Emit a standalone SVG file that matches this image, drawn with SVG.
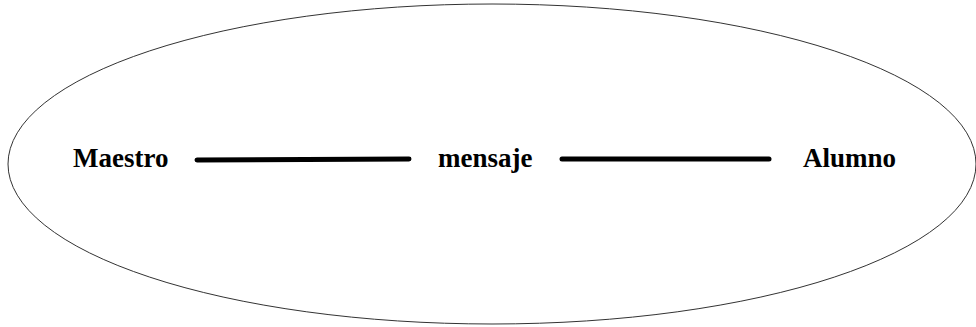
<svg xmlns="http://www.w3.org/2000/svg" width="976" height="327" viewBox="0 0 976 327">
<style>
.lbl{font-family:"Liberation Serif","Times New Roman",serif;font-weight:bold;font-size:27px;fill:#000}
.conn{stroke:#000;stroke-width:5;stroke-linecap:round;fill:none}
</style>
<rect width="976" height="327" fill="#fff"/>
<g id="boundary"><ellipse cx="492" cy="164" rx="484" ry="160" fill="none" stroke="#333" stroke-width="1"/></g>
<g id="maestro"><text class="lbl" x="73" y="167">Maestro</text></g>
<g id="mensaje"><text class="lbl" x="438" y="167">mensaje</text></g>
<g id="alumno"><text class="lbl" x="803" y="167">Alumno</text></g>
<g id="connectors">
<line class="conn" x1="197" y1="160" x2="409" y2="159"/>
<line class="conn" x1="562" y1="159" x2="769" y2="159"/>
</g>
</svg>
